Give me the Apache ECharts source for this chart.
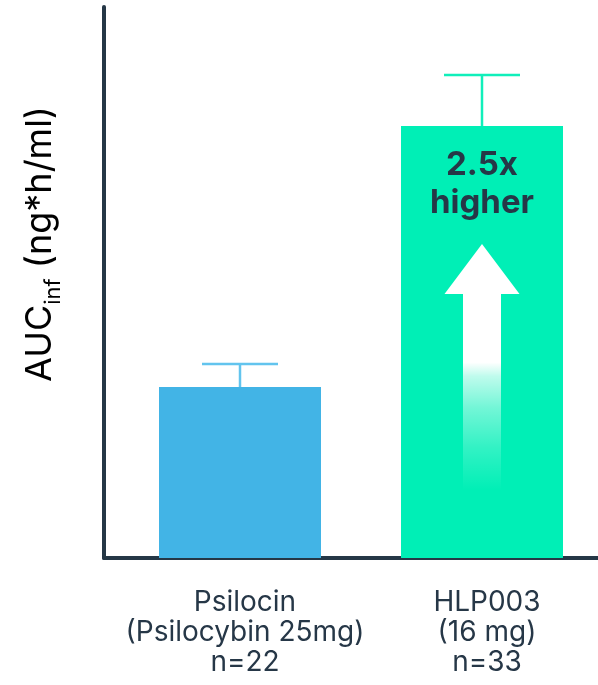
<!DOCTYPE html>
<html>
<head>
<meta charset="utf-8">
<script src="https://cdn.jsdelivr.net/npm/echarts@6/dist/echarts.min.js"></script>
<style>
html,body{margin:0;padding:0;background:#fff;}
#c{width:598px;height:685px;}
</style>
</head>
<body>
<div id="c"></div>
<script>
// ---- data ----
const categories = ['Psilocin', 'HLP003'];
const doses = ['(Psilocybin 25mg)', '(16 mg)'];
const sampleSizes = ['n=22', 'n=33'];
const positions = [1, 2];
const aucValues = [171, 432];
const aucErrors = [23, 51];
const barColors = ['#42b4e6', '#00efb6'];
const errColors = ['#62c4ee', '#10efba'];
const foldLabel = ['2.5x', 'higher'];
const yLabelMain = 'AUC';
const yLabelSub = 'inf';
const yLabelUnit = ' (ng*h/ml)';

const dark = '#263747';
const chart = echarts.init(document.getElementById('c'));

const gridLeft = 104, gridWidth = 494;
const pxPerUnit = 242;
const xMin = 1 - (240 - gridLeft) / pxPerUnit;
const xMax = xMin + gridWidth / pxPerUnit;

const barData = positions.map((p, i) => ({
  value: [p, aucValues[i]],
  itemStyle: { color: barColors[i] },
  label: i === 1 ? {
    show: true, position: 'insideTop', distance: 20,
    formatter: foldLabel.join('\n'),
    fontFamily: 'Inter', fontWeight: 'bold', fontSize: 33, lineHeight: 38,
    color: dark
  } : { show: false }
}));

const errData = positions.map((p, i) => [p, aucValues[i], aucErrors[i], i]);

chart.setOption({
  animation: false,
  grid: { left: gridLeft, top: 7, width: gridWidth, height: 551, containLabel: false },
  xAxis: {
    type: 'value', min: xMin, max: xMax,
    splitLine: { show: false },
    axisTick: { show: false },
    axisLine: { show: true, onZero: false, lineStyle: { color: '#253746', width: 4 } },
    axisLabel: {
      customValues: positions,
      margin: 30,
      padding: [0, 0, 0, 10],
      fontFamily: 'Inter', fontSize: 28, lineHeight: 30, color: dark,
      formatter: v => {
        const i = positions.indexOf(Math.round(v));
        return i < 0 ? '' : categories[i] + '\n' + doses[i] + '\n' + sampleSizes[i];
      }
    }
  },
  yAxis: {
    type: 'value', min: 0, max: 551,
    splitLine: { show: false },
    axisTick: { show: false },
    axisLabel: { show: false },
    axisLine: { show: true, lineStyle: { color: '#253746', width: 4 } }
  },
  series: [
    {
      type: 'bar', data: barData, barWidth: 162, z: 2
    },
    {
      type: 'custom', data: errData, z: 3,
      renderItem: (params, api) => {
        const x = api.value(0), y = api.value(1), e = api.value(2), idx = api.value(3);
        const top = api.coord([x, y + e]);
        const bot = api.coord([x, y]);
        const col = errColors[idx];
        return {
          type: 'group',
          children: [
            { type: 'line', shape: { x1: bot[0], y1: bot[1], x2: top[0], y2: top[1] }, style: { stroke: col, lineWidth: 2.5 } },
            { type: 'line', shape: { x1: top[0] - 38, y1: top[1], x2: top[0] + 38, y2: top[1] }, style: { stroke: col, lineWidth: 2.5 } }
          ]
        };
      }
    }
  ]
});

// arrow decoration and y-axis title
const cx = chart.convertToPixel({ xAxisIndex: 0 }, positions[1]);
const barTop = chart.convertToPixel({ yAxisIndex: 0 }, aucValues[1]);
const base = chart.convertToPixel({ yAxisIndex: 0 }, 0);
const tipY = barTop + 118, headY = barTop + 168, shaftBottom = base - 67;

chart.setOption({
  graphic: [
    {
      type: 'polygon', z: 10,
      shape: { points: [[cx, tipY], [cx + 37.5, headY], [cx - 37.5, headY]] },
      style: { fill: '#ffffff' }
    },
    {
      type: 'rect', z: 10,
      shape: { x: cx - 19, y: headY - 0.5, width: 38, height: shaftBottom - headY },
      style: {
        fill: new echarts.graphic.LinearGradient(0, 0, 0, 1, [
          { offset: 0, color: 'rgba(255,255,255,1)' },
          { offset: 0.35, color: 'rgba(255,255,255,1)' },
          { offset: 0.42, color: 'rgba(255,255,255,0.75)' },
          { offset: 0.58, color: 'rgba(255,255,255,0.45)' },
          { offset: 0.78, color: 'rgba(255,255,255,0.2)' },
          { offset: 1, color: 'rgba(255,255,255,0)' }
        ])
      }
    },
    {
      type: 'text', z: 10,
      x: 40, y: 244, rotation: Math.PI / 2,
      style: {
        text: '{m|' + yLabelMain + '}{s|' + yLabelSub + '}{m|' + yLabelUnit + '}',
        align: 'center', verticalAlign: 'middle',
        rich: {
          m: { fontFamily: 'Inter', fontSize: 36, color: dark },
          s: { fontFamily: 'Inter', fontSize: 22, color: dark, padding: [27, 0, 0, 0] }
        }
      }
    }
  ]
});
</script>
</body>
</html>
